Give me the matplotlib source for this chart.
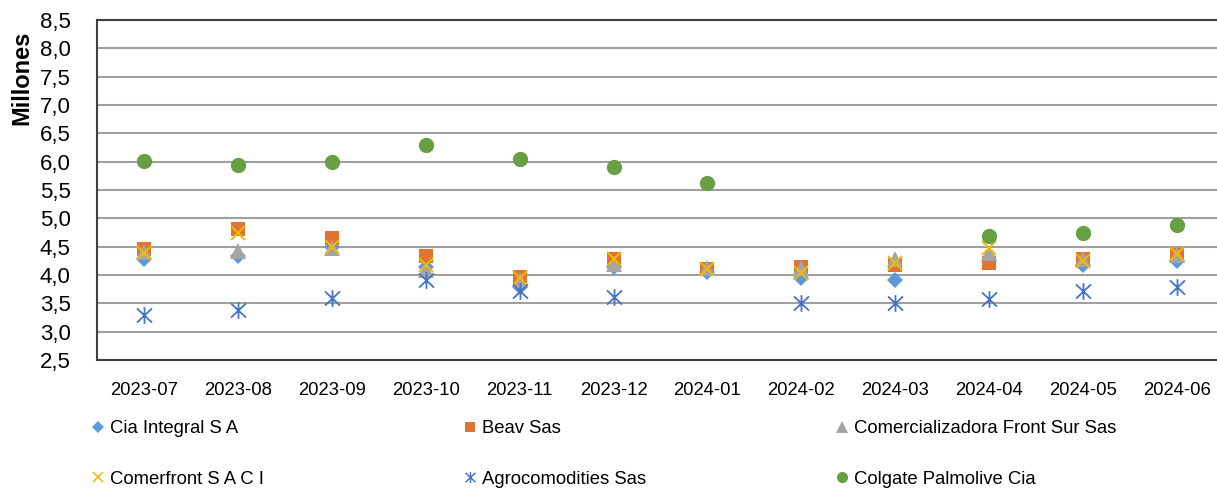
import numpy as np
import matplotlib
matplotlib.use("Agg")
import matplotlib.pyplot as plt
from matplotlib.path import Path
from matplotlib.lines import Line2D

plt.rcParams['font.family'] = ['Liberation Sans', 'DejaVu Sans']

categories = ["2023-07", "2023-08", "2023-09", "2023-10", "2023-11", "2023-12",
              "2024-01", "2024-02", "2024-03", "2024-04", "2024-05", "2024-06"]
nan = np.nan
cia_integral = [4.29, 4.34, 4.50, 4.14, 3.79, 4.15, 4.06, 3.94, 3.91, 4.24, 4.18, 4.24]
beav = [4.46, 4.82, 4.66, 4.34, 3.97, 4.29, 4.10, 4.15, 4.18, 4.22, 4.29, 4.35]
comercializadora = [4.41, 4.43, 4.47, 4.09, 3.91, 4.20, 4.12, 4.12, 4.29, 4.38, 4.29, 4.35]
comerfront = [4.38, 4.74, 4.49, 4.18, 3.94, 4.29, 4.10, 4.03, 4.21, 4.47, 4.24, 4.37]
agrocomodities = [3.29, 3.39, 3.59, 3.92, 3.71, 3.62, nan, 3.50, 3.50, 3.58, 3.71, 3.79]
colgate = [6.02, 5.94, 5.99, 6.30, 6.04, 5.90, 5.63, nan, nan, 4.68, 4.75, 4.88]

series_names = ["Cia Integral S A", "Beav Sas", "Comercializadora Front Sur Sas",
                "Comerfront S A C I", "Agrocomodities Sas", "Colgate Palmolive Cia"]
series_values = [cia_integral, beav, comercializadora, comerfront, agrocomodities, colgate]
y_ticks = [2.5, 3.0, 3.5, 4.0, 4.5, 5.0, 5.5, 6.0, 6.5, 7.0, 7.5, 8.0, 8.5]

star = Path([(0, -1), (0, 1), (-0.9, -0.85), (0.9, 0.85), (-0.9, 0.85), (0.9, -0.85)],
            [Path.MOVETO, Path.LINETO, Path.MOVETO, Path.LINETO, Path.MOVETO, Path.LINETO])

styles = [
    dict(marker='D', color='#5B9BD5', ms=8.3, mew=0),
    dict(marker='s', color='#E07532', ms=10, mew=0),
    dict(marker='^', color='#A5A5A5', ms=11, mew=0),
    dict(marker='x', color='#F5B800', ms=9.5, mew=1.4),
    dict(marker=star, color='#4472C4', ms=12, mew=1.3),
    dict(marker='o', color='#67A043', ms=11, mew=0),
]
legend_ms = [6, 7, 8, 6.5, 8, 8]

W, H = 1217, 488
fig = plt.figure(figsize=(W / 100, H / 100), dpi=100)
ax = fig.add_axes([97 / W, 1 - 360 / H, 1127 / W, 340 / H])

x = np.arange(len(categories))
for i, (vals, st) in enumerate(zip(series_values, styles)):
    ax.plot(x, vals, linestyle='none', marker=st['marker'], color=st['color'],
            markersize=st['ms'], markeredgewidth=st['mew'], zorder=3 + i)

ax.set_xlim(-0.5, len(categories) - 0.5)
ax.set_ylim(2.5, 8.5)
ax.set_yticks(y_ticks)
ax.set_yticklabels([f"{v:.1f}".replace('.', ',') for v in y_ticks])
ax.set_xticks(x)
ax.set_xticklabels(categories)
ax.tick_params(axis='both', length=0, colors='black')
ax.tick_params(axis='y', pad=19, labelsize=16)
ax.tick_params(axis='x', pad=16, labelsize=13.3)
ax.grid(axis='y', color='#A0A0A0', linewidth=1.5, zorder=0)
ax.set_axisbelow(True)
for side in ['left', 'top', 'bottom']:
    ax.spines[side].set_color('#404040')
    ax.spines[side].set_linewidth(1.5)
ax.spines['right'].set_visible(False)

fig.text(22 / W, 1 - 78 / H, "Millones", rotation=90, ha='center', va='center',
         fontsize=17, fontweight='bold')

handles = []
for st, lms in zip(styles, legend_ms):
    handles.append(Line2D([], [], linestyle='none', marker=st['marker'], color=st['color'],
                          markersize=lms, markeredgewidth=st['mew'] * 0.8))

col_x = [92 / W, 464 / W, 836 / W]
for c in range(3):
    idx = [c, c + 3]
    fig.legend([handles[i] for i in idx], [series_names[i] for i in idx],
               loc='center left', bbox_to_anchor=(col_x[c], 1 - 454 / H),
               frameon=False, fontsize=13.3, handlelength=0.6, handletextpad=0.35,
               borderpad=0, borderaxespad=0, labelspacing=1.79)

fig.savefig("out.png", dpi=100)
